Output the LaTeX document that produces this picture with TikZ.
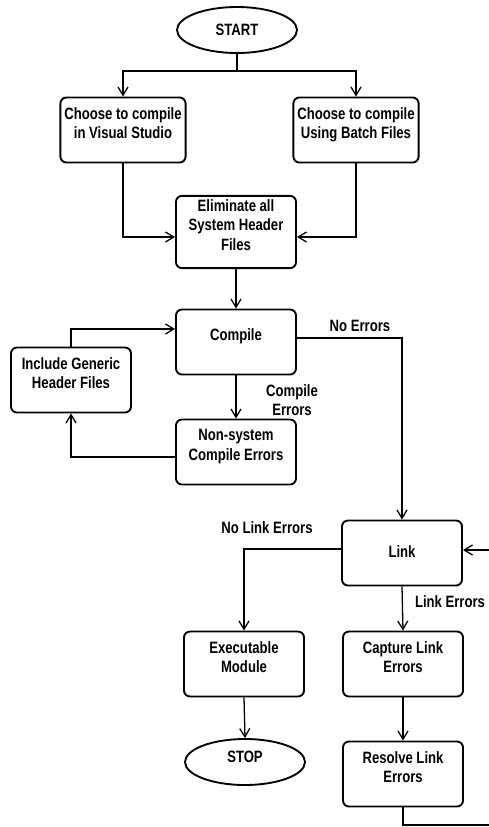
\documentclass[tikz,border=0pt]{standalone}
\usepackage{fontspec}
\setmainfont{Liberation Sans}[FakeStretch=0.8]
\usepackage{tikz}
\usetikzlibrary{arrows.meta,shapes.geometric}

\tikzset{
  box/.style={draw, line width=1.6pt, rounded corners=0.18cm, minimum width=3.6cm,
    minimum height=1.95cm, align=center, text depth=0.42cm},
  term/.style={draw, ellipse, line width=1.6pt, minimum width=3.6cm, minimum height=1.38cm,
    inner sep=0pt},
  arr/.style={line width=1.1pt, -{Straight Barb[length=0.25cm,width=0.3cm,line width=1.1pt]}},
  lin/.style={line width=1.1pt},
  lbl/.style={align=center}
}

\begin{document}
\begin{tikzpicture}[x=0.03cm,y=-0.03cm,font=\fontsize{14pt}{16.5pt}\selectfont\bfseries]
\useasboundingbox (0,0) rectangle (489,827);
\clip (0,0) rectangle (489,827);
%\node {\includegraphics{flow.png}};
\node[term] (start) at (237,30) {START};
\node[box] (vs) at (123,130) {Choose to compile\\in Visual Studio};
\node[box] (batch) at (356,130) {Choose to compile\\Using Batch Files};
\node[box] (elim) at (236,232) {Eliminate all\\System Header\\Files};
\node[box] (compile) at (236,342) {Compile};
\node[box] (incl) at (71,380) {Include Generic\\Header Files};
\node[box] (nonsys) at (236,452) {Non-system\\Compile Errors};
\node[box, text depth=0.1cm] (link) at (402,553) {Link};
\node[box] (exe) at (244,664) {Executable\\Module};
\node[box] (capture) at (403,664) {Capture Link\\Errors};
\node[term, text depth=0.3cm] (stop) at (245,762) {STOP};
\node[box] (resolve) at (403,774) {Resolve Link\\Errors};
\coordinate (split) at (237,71);
\coordinate (loop) at (500,825);
% labels
\node[lbl] (lcomp) at (292,400) {Compile\\Errors};
\node[lbl] (lnoerr) at (360,326) {No Errors};
\node[lbl] (lnolink) at (267,528) {No Link Errors};
\node[lbl] (llink) at (450,602) {Link Errors};
% arrows
\draw[lin] (start.south) -- (split);
\draw[arr] (split) -| (vs.north);
\draw[arr] (split) -| (batch.north);
\draw[arr] (vs.south) |- ([yshift=-0.15cm]elim.west);
\draw[arr] (batch.south) |- ([yshift=-0.15cm]elim.east);
\draw[arr] (elim.south) -- (compile.north);
\draw[arr] (compile.south) -- (nonsys.north);
\draw[arr] (nonsys.west) ++(0,5) -| (incl.south);
\draw[arr] (incl.north) |- ([yshift=0.39cm]compile.west);
\draw[arr] ([yshift=0.12cm]compile.east) -| (link.north);
\draw[arr] (link.west) ++(0,-4) -| (exe.north);
\draw[arr] (link.south) -- (capture.north);
\draw[arr] (exe.south) -- (stop.north);
\draw[arr] (capture.south) -- (resolve.north);
\draw[arr] (resolve.south) |- (loop) |- ([yshift=0.09cm]link.east);
\end{tikzpicture}
\end{document}
